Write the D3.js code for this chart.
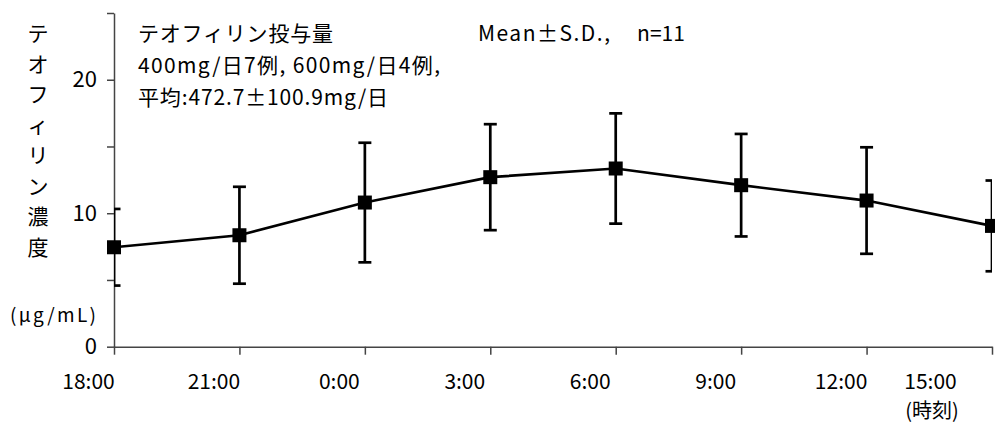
<!DOCTYPE html>
<html>
<head>
<meta charset="utf-8">
<script src="https://cdn.jsdelivr.net/npm/d3@7"></script>
<style>
	body { margin: 0; background: #fff; }
	svg text { font-family: "Noto Sans CJK JP", "Noto Sans", sans-serif; fill: #000; }
</style>
</head>
<body>
<svg id="chart" width="995" height="424"></svg>
<script>
	// Time of day (x categories) and theophylline concentration, mean and S.D.
	var times = ['18:00', '21:00', '0:00', '3:00', '6:00', '9:00', '12:00', '15:00'];
	var means = [7.45, 8.35, 10.8, 12.7, 13.35, 12.1, 10.95, 9.05];
	var sds = [2.87, 3.63, 4.48, 3.97, 4.13, 3.84, 3.99, 3.4];
	var y_ticks = [0, 5, 10, 15, 20, 25];
	var y_labels = [0, 10, 20];
	var y_title = ['テ', 'オ', 'フ', 'ィ', 'リ', 'ン', '濃', '度'];
	var notes = ['テオフィリン投与量', '400mg/日7例, 600mg/日4例,', '平均:472.7±100.9mg/日'];

(function (d3) {

	var plot_left = 114, plot_right = 992, plot_top = 13, plot_bottom = 346.7;
	var note_widths = [195, 302, 250]; // measured spans of the three note lines

	var svg = d3.select('#chart');

	var x = d3.scalePoint().domain(times).range([plot_left, plot_right]);
	var y = d3.scaleLinear().domain([0, 25]).range([plot_bottom, plot_top]);

	svg.append('defs').append('clipPath').attr('id', 'plot-clip')
		.append('rect')
		.attr('x', plot_left).attr('y', 0)
		.attr('width', plot_right - plot_left).attr('height', 424);

	// y axis: ticks every 5, labels every 10
	var y_axis = svg.append('g').attr('transform', 'translate(' + plot_left + ',0)')
		.call(d3.axisLeft(y).tickValues(y_ticks).tickSize(7).tickSizeOuter(0)
			.tickFormat(function(d) { return y_labels.indexOf(d) >= 0 ? d : ''; }));
	y_axis.select('.domain').attr('stroke', '#444').attr('stroke-width', 1.5);
	y_axis.selectAll('.tick line').attr('stroke', '#444').attr('stroke-width', 1.5);
	y_axis.selectAll('.tick text').attr('x', -17).attr('font-size', 22)
		.style('font-family', '"Noto Sans CJK JP", sans-serif');

	// x axis: ticks on categories, labels set a bit to the left
	var x_axis = svg.append('g').attr('transform', 'translate(0,' + plot_bottom + ')')
		.call(d3.axisBottom(x).tickSize(8).tickSizeOuter(0));
	x_axis.select('.domain').attr('stroke', '#444').attr('stroke-width', 1.5);
	x_axis.selectAll('.tick line').attr('stroke', '#444').attr('stroke-width', 1.5);
	x_axis.selectAll('.tick text')
		.attr('x', function(d) { return Math.min(x(d) - 26, 930) - x(d); })
		.attr('y', 42).attr('dy', null).attr('font-size', 21)
		.style('font-family', '"Noto Sans CJK JP", sans-serif');

	svg.append('text').attr('x', 932).attr('y', 418)
		.attr('text-anchor', 'middle').attr('font-size', 20).text('(時刻)');

	// y axis title, written vertically
	svg.append('g').selectAll('text').data(y_title).enter().append('text')
		.attr('x', 38)
		.attr('y', function(d, i) { return 41 + i * 30.5; })
		.attr('text-anchor', 'middle').attr('font-size', 21)
		.text(function(d) { return d; });
	svg.append('text').attr('x', 10).attr('y', 322).attr('font-size', 19)
		.attr('textLength', 86).attr('lengthAdjust', 'spacing').text('(μg/mL)');

	// notes
	svg.append('g').selectAll('text').data(notes).enter().append('text')
		.attr('x', 138)
		.attr('y', function(d, i) { return 41 + i * 32; })
		.attr('font-size', 21)
		.attr('textLength', function(d, i) { return note_widths[i]; })
		.attr('lengthAdjust', 'spacing')
		.text(function(d) { return d; });
	svg.append('text').attr('x', 478).attr('y', 41).attr('font-size', 21)
		.attr('textLength', 132).attr('lengthAdjust', 'spacing').text('Mean±S.D.,');
	svg.append('text').attr('x', 637).attr('y', 41).attr('font-size', 21)
		.attr('textLength', 48).attr('lengthAdjust', 'spacing').text('n=11');

	var data = times.map(function(t, i) { return { t: t, m: means[i], s: sds[i] }; });

	// error bars, clipped to the plot area
	var bars = svg.append('g').attr('clip-path', 'url(#plot-clip)')
		.attr('stroke', '#000').attr('stroke-width', 2.7);
	bars.selectAll('line.v').data(data).enter().append('line').attr('class', 'v')
		.attr('x1', function(d) { return x(d.t); }).attr('x2', function(d) { return x(d.t); })
		.attr('y1', function(d) { return y(d.m + d.s); }).attr('y2', function(d) { return y(d.m - d.s); });
	['hi', 'lo'].forEach(function(k) {
		bars.selectAll('line.' + k).data(data).enter().append('line').attr('class', k)
			.attr('x1', function(d) { return x(d.t) - 6.5; }).attr('x2', function(d) { return x(d.t) + 6.5; })
			.attr('y1', function(d) { return y(k == 'hi' ? d.m + d.s : d.m - d.s); })
			.attr('y2', function(d) { return y(k == 'hi' ? d.m + d.s : d.m - d.s); });
	});

	// mean line and square markers
	svg.append('path').datum(data)
		.attr('fill', 'none').attr('stroke', '#000').attr('stroke-width', 2.7)
		.attr('d', d3.line().x(function(d) { return x(d.t); }).y(function(d) { return y(d.m); }));
	svg.append('g').selectAll('rect').data(data).enter().append('rect')
		.attr('x', function(d) { return x(d.t) - 7; })
		.attr('y', function(d) { return y(d.m) - 7; })
		.attr('width', 14).attr('height', 14).attr('fill', '#000');

}(d3));
</script>
</body>
</html>
